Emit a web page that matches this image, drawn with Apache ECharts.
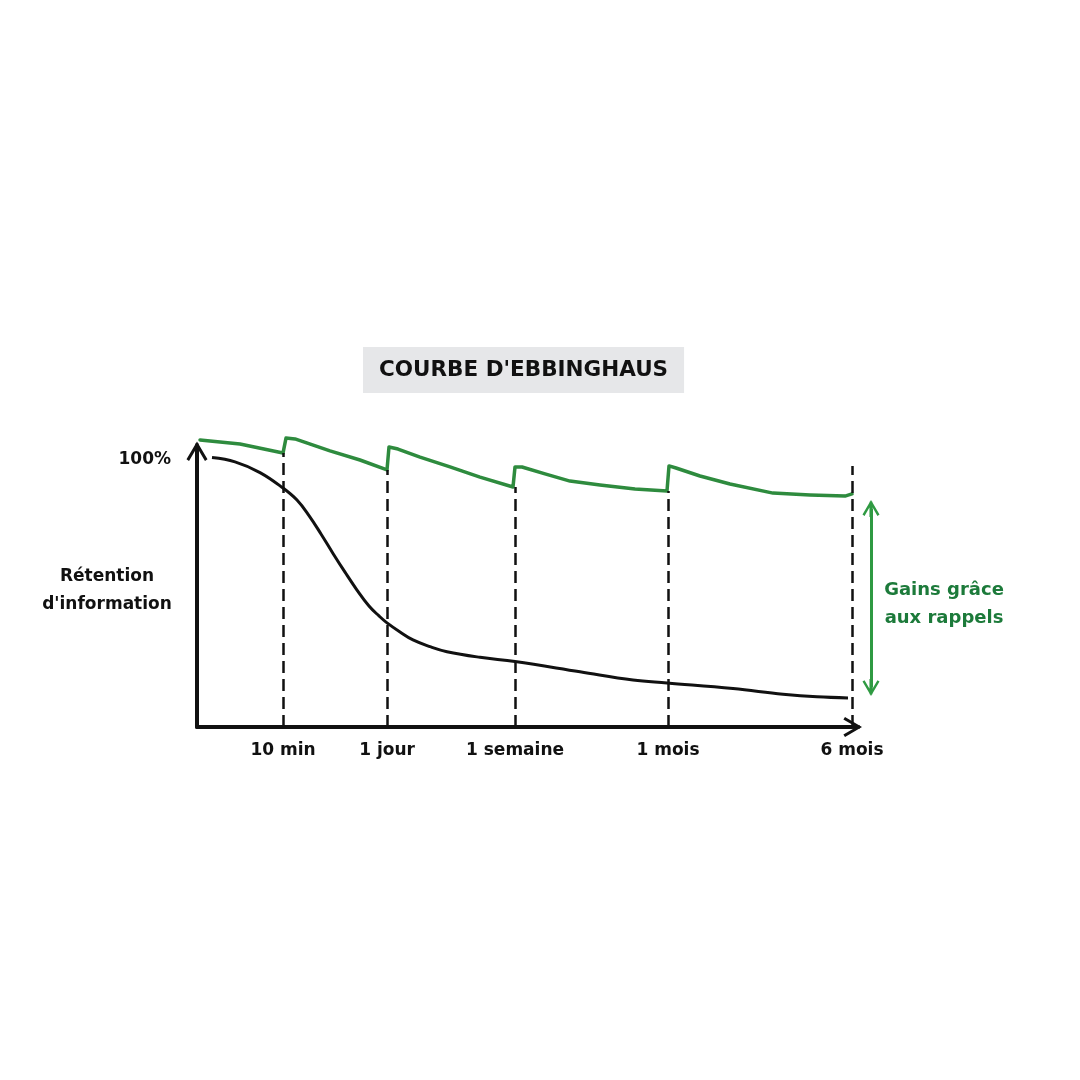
<!DOCTYPE html>
<html>
<head>
<meta charset="utf-8">
<script src="https://cdn.jsdelivr.net/npm/echarts@6/dist/echarts.min.js"></script>
<style>html,body{margin:0;padding:0;background:#fff;}#c{width:1080px;height:1080px;}</style>
</head>
<body>
<div id="c"></div>
<script>
// ---- data ----
const titleText = "COURBE D'EBBINGHAUS";
const yAxisName = "Rétention\nd'information";
const annotationText = "Gains grâce\naux rappels";
const xTickValues = [86, 190, 318, 471, 655];
const xTickLabels = ['10 min', '1 jour', '1 semaine', '1 mois', '6 mois'];
const dashTops = [102.6, 96.3, 89.9, 88.4, 97.8];
const yTickValue = 100;
const yTickLabel = '100%';

const forgetX = [15, 38, 63, 86, 100, 112, 124, 136, 148, 160, 172, 182, 190, 203, 216, 233, 250, 283, 318, 383, 436, 470, 536, 586, 620, 651];
const forgetY = [100.9, 99.3, 95.3, 89.5, 85.0, 79.2, 72.3, 65.0, 58.0, 51.3, 45.3, 41.6, 39.0, 35.6, 32.6, 30.1, 28.2, 26.1, 24.5, 20.7, 17.6, 16.5, 14.4, 12.3, 11.3, 10.9];

const reviewX = [3, 43, 86, 89, 98, 133, 163, 190, 192, 201, 223, 253, 283, 316, 318, 325, 348, 373, 403, 438, 470, 472, 479, 503, 533, 576, 613, 648, 655];
const reviewY = [107.5, 106.0, 102.6, 108.2, 107.9, 103.4, 100.0, 96.3, 104.9, 104.1, 101.1, 97.4, 93.6, 89.9, 97.4, 97.4, 94.8, 92.1, 90.6, 89.1, 88.4, 97.8, 97.0, 94.0, 91.0, 87.6, 86.9, 86.5, 87.3];

const gainArrowFrom = 14.8;
const gainArrowTo = 81.8;

// ---- build ----
const FONT = 'DejaVu Sans';
const ARROW = 'path://M5,0 L10,8.5 L8.8,9.3 L5,2.8 L1.2,9.3 L0,8.5 Z M4.1,1 L5.9,1 L5.9,10 L4.1,10 Z';

const forgetData = forgetX.map((x, i) => [x, forgetY[i]]);
const reviewData = reviewX.map((x, i) => [x, reviewY[i]]);
const dashLines = xTickValues.map((x, i) => [{coord: [x, 0]}, {coord: [x, dashTops[i]]}]);

const chart = echarts.init(document.getElementById('c'), null, {renderer: 'canvas'});
chart.setOption({
  backgroundColor: '#ffffff',
  animation: false,
  title: {
    text: titleText,
    left: 363, top: 347,
    backgroundColor: '#e6e7e9',
    padding: [12, 16],
    textStyle: {fontFamily: FONT, fontSize: 21.5, fontWeight: 'bold', color: '#111111', lineHeight: 22}
  },
  grid: [
    {left: 197, top: 452, width: 655, height: 275, containLabel: false, outerBoundsMode: 'none'},
    {left: 861, top: 452, width: 20, height: 275, containLabel: false, outerBoundsMode: 'none'}
  ],
  xAxis: [{
    type: 'value', min: 0, max: 655, gridIndex: 0,
    splitLine: {show: false},
    axisTick: {show: false},
    axisLine: {show: true, onZero: false, symbol: ['none', ARROW], symbolSize: [20, 20],
      lineStyle: {color: '#111111', width: 4}},
    axisLabel: {
      customValues: xTickValues,
      formatter: v => { const i = xTickValues.indexOf(v); return i >= 0 ? xTickLabels[i] : ''; },
      margin: 15, fontFamily: FONT, fontSize: 17, fontWeight: 'bold', color: '#111111'
    }
  }, {
    type: 'value', min: 0, max: 1, gridIndex: 1, show: false
  }],
  yAxis: [{
    type: 'value', min: 0, max: 103, interval: 100, gridIndex: 0,
    splitLine: {show: false},
    axisTick: {show: false},
    axisLine: {show: true, onZero: false, symbol: ['none', ARROW], symbolSize: [21, 21],
      lineStyle: {color: '#111111', width: 4}},
    axisLabel: {
      formatter: v => (v === yTickValue ? yTickLabel : ''),
      margin: 26, fontFamily: FONT, fontSize: 17, fontWeight: 'bold', color: '#111111'
    }
  }, {
    type: 'value', min: 0, max: 103, gridIndex: 1, show: false
  }],
  series: [
    {
      type: 'line', name: 'forget', data: forgetData, smooth: 0.4,
      symbol: 'none', clip: false,
      lineStyle: {color: '#111111', width: 3},
      markLine: {
        silent: true, symbol: ['none', 'none'], label: {show: false},
        lineStyle: {color: '#111111', width: 2.5, type: [12, 6]},
        emphasis: {disabled: true},
        data: dashLines
      },
      z: 3
    },
    {
      type: 'line', name: 'review', data: reviewData, smooth: false, symbol: 'none', clip: false,
      lineStyle: {color: '#2e8b3e', width: 3.5, join: 'round', cap: 'round'},
      z: 4
    },
    {
      type: 'line', name: 'gain', xAxisIndex: 1, yAxisIndex: 1,
      data: [[0.5, gainArrowFrom], [0.5, gainArrowTo]], symbol: 'none', clip: false,
      lineStyle: {opacity: 0},
      markLine: {
        silent: true, symbol: [ARROW, ARROW], symbolSize: 17, label: {show: false},
        lineStyle: {color: '#2f9a42', width: 3, type: 'solid'},
        emphasis: {disabled: true},
        data: [[{coord: [0.5, gainArrowFrom]}, {coord: [0.5, gainArrowTo]}]]
      },
      z: 4
    }
  ],
  graphic: [{
    type: 'text', x: 107, y: 591,
    style: {text: yAxisName, fontFamily: FONT, fontSize: 17, fontWeight: 'bold',
      fill: '#111111', lineHeight: 28, align: 'center', verticalAlign: 'middle'}
  }, {
    type: 'text', x: 944, y: 604,
    style: {text: annotationText, fontFamily: FONT, fontSize: 18, fontWeight: 'bold',
      fill: '#1c7a3a', lineHeight: 28, align: 'center', verticalAlign: 'middle'}
  }]
});
</script>
</body>
</html>
